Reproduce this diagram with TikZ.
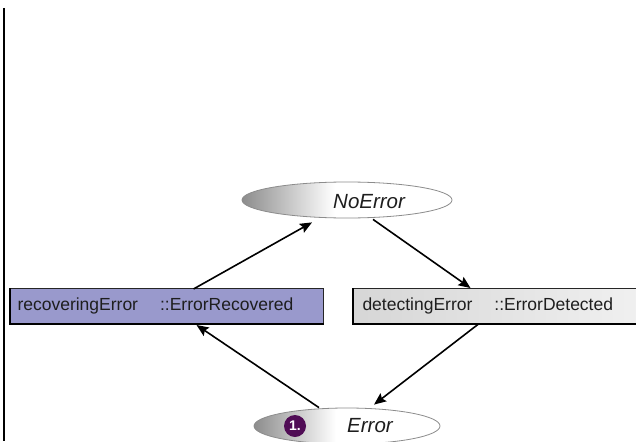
\documentclass[tikz,border=0pt]{standalone}
\usepackage{fontspec}
\setmainfont{Liberation Sans}
\usetikzlibrary{arrows.meta,calc,shapes.geometric}
\definecolor{recfill}{RGB}{153,153,204}
\definecolor{numpurple}{RGB}{80,12,85}
\definecolor{txtgray}{RGB}{30,30,30}
\pgfdeclarehorizontalshading{ellshade}{100bp}{color(0bp)=(black!45); color(25bp)=(black!45); color(47bp)=(white); color(100bp)=(white)}
\begin{document}
\begin{tikzpicture}[x=1pt,y=-1pt,
  stateell/.style={ellipse, draw=black!45, line width=0.8pt, shading=ellshade, inner sep=0pt},
  statetxt/.style={anchor=base west, inner sep=0pt, font=\fontsize{20.5}{24}\selectfont\itshape, text=txtgray},
  actbox/.style={rectangle, draw=black!85, line width=1pt, inner sep=0pt, minimum height=35pt, text height=13pt, text depth=4pt, align=left, font=\fontsize{17.5}{20}\selectfont, text=txtgray, anchor=north west},
  boxedge/.style={draw=black, line width=2.6pt},
  arr/.style={-{Stealth[length=12pt,width=10pt,inset=2pt]}, line width=1.6pt, black}
]
\useasboundingbox (0,0) rectangle (636,441);
\fill[white] (0,0) rectangle (636,441);
% left rule
\coordinate (vtop) at (4,8);
\coordinate (vbot) at (4,441);
\draw[line width=2pt] (vtop) -- (vbot);

% states
\node[stateell, minimum width=210pt, minimum height=36pt] (noerr) at (347,200) {};
\node[statetxt] (noerrtxt) at (333,208) {NoError};
\node[stateell, minimum width=186pt, minimum height=36pt] (err) at (347,426) {};
\node[statetxt] (errtxt) at (347,432) {Error};
\node[circle, fill=numpurple, minimum size=22pt, inner sep=0pt, text=white, font=\bfseries\fontsize{14}{16}\selectfont] (num) at (295,426) {1.};

% activity boxes
\node[actbox, fill=recfill, text width=299pt, inner xsep=7pt] (rec) at (10,288) {recoveringError\hspace*{22pt}::ErrorRecovered};
\node[actbox, left color=black!16, right color=black!6, text width=265pt, inner xsep=9pt] (det) at (353,288) {detectingError\hspace*{22pt}::ErrorDetected};
\draw[boxedge] (rec.north west) -- (rec.south west) -- (rec.south east);
\draw[boxedge] (det.north west) -- (det.south west) -- (det.south east);

% transitions
\draw[arr] ([xshift=26.5pt,yshift=-1pt]rec.north) -- ([xshift=-35pt,yshift=-4pt]noerr.south);
\draw[arr] ([xshift=26pt,yshift=-1pt]noerr.south) -- ([xshift=-24.5pt]det.north);
\draw[arr] ([xshift=-16.5pt]det.south) -- ([xshift=27pt,yshift=3pt]err.north);
\draw[arr] ([xshift=-28pt]err.north) -- ([xshift=29.5pt,yshift=-1pt]rec.south);
\end{tikzpicture}
\end{document}
